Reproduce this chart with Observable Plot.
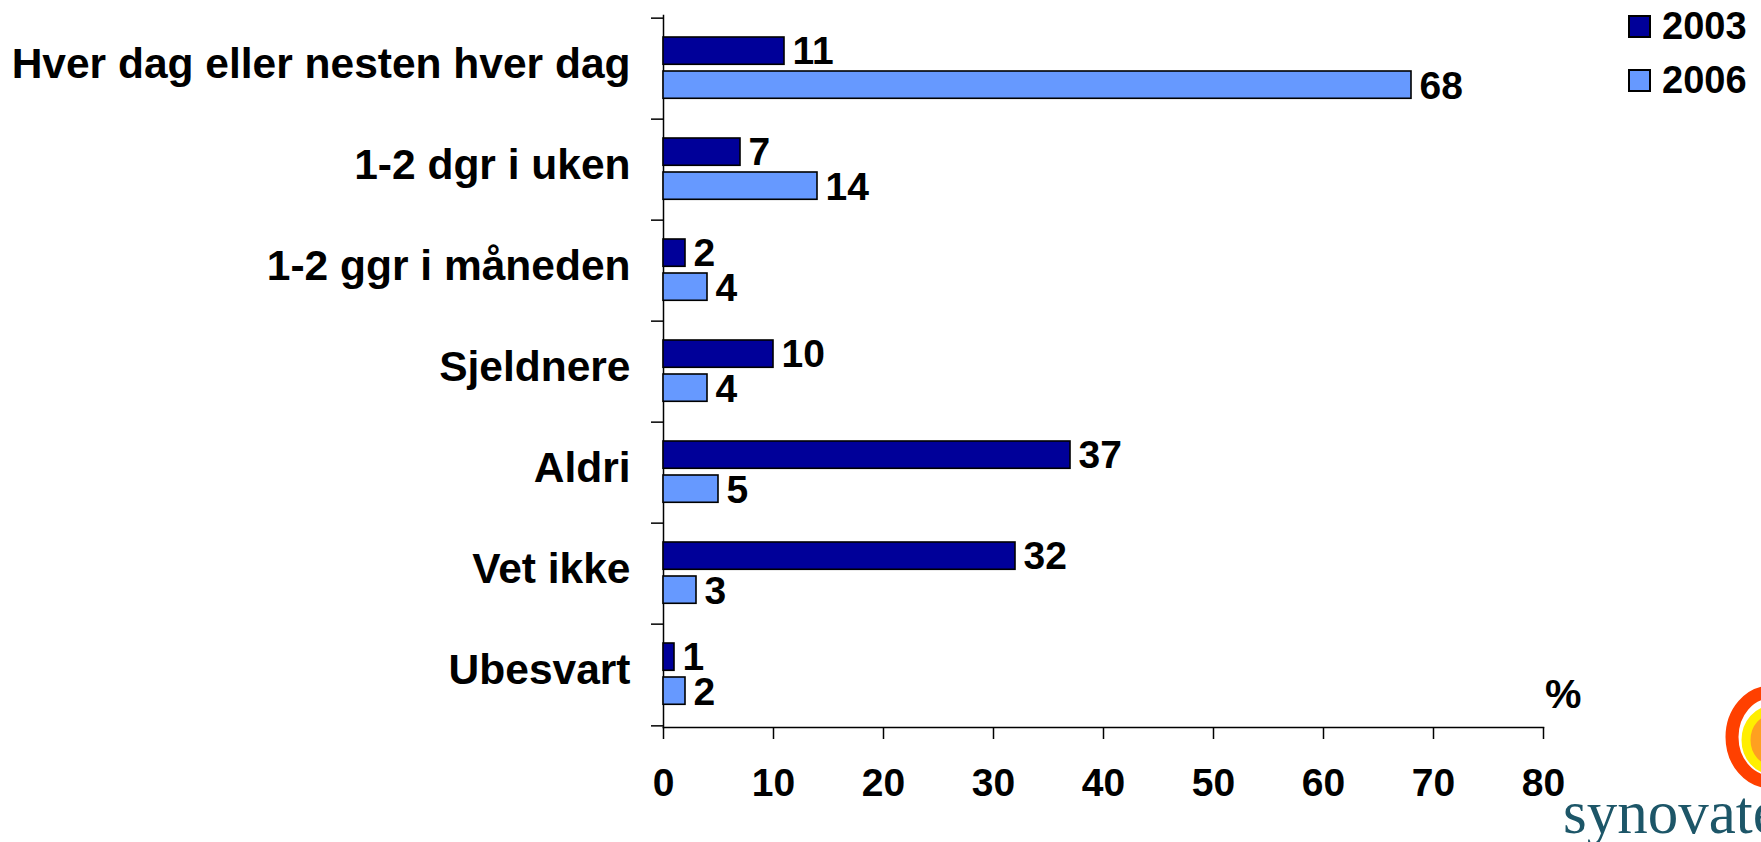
<!DOCTYPE html>
<html>
<head>
<meta charset="utf-8">
<script src="https://cdn.jsdelivr.net/npm/d3@7"></script>
<script src="https://cdn.jsdelivr.net/npm/@observablehq/plot@0.6"></script>
<style>
  html, body { margin: 0; padding: 0; background: #fff; }
  #wrap { position: relative; width: 1761px; height: 842px; overflow: hidden; font-family: "Liberation Sans", Arial, sans-serif; }
  #legend { position: absolute; left: 1628px; top: 12px; }
  .item { position: absolute; left: 0; display: flex; align-items: center; white-space: nowrap; }
  .swatch { width: 19px; height: 19px; border: 2px solid #000; }
  .item span { margin-left: 11px; font-size: 38px; font-weight: bold; color: #000; line-height: 1; }
  #logo { position: absolute; left: 1540px; top: 660px; }
</style>
</head>
<body>
<div id="wrap">
  <div id="chart"></div>
  <div id="legend"></div>
  <svg id="logo" width="221" height="182" viewBox="0 0 221 182">
    <ellipse cx="231" cy="77" rx="39" ry="45" fill="none" stroke="#ff4000" stroke-width="13"/>
    <ellipse cx="233" cy="80" rx="27" ry="30" fill="#ffa020" stroke="#ffee00" stroke-width="9"/>
    <text x="23" y="173" font-family="'Liberation Serif', 'DejaVu Serif', serif" font-size="61" fill="#1d5668">synovate</text>
  </svg>
</div>
<script>
// Survey answers: how often, share of respondents (%)
const categories = [
  "Hver dag eller nesten hver dag",
  "1-2 dgr i uken",
  "1-2 ggr i måneden",
  "Sjeldnere",
  "Aldri",
  "Vet ikke",
  "Ubesvart"
];
const years = ["2003", "2006"];
const values2003 = [11, 7, 2, 10, 37, 32, 1];
const values2006 = [68, 14, 4, 4, 5, 3, 2];
const xTicks = [0, 10, 20, 30, 40, 50, 60, 70, 80];
const colors = ["#000099", "#6699ff"];

const rows2003 = categories.map((c, i) => ({category: c, year: years[0], value: values2003[i]}));
const rows2006 = categories.map((c, i) => ({category: c, year: years[1], value: values2006[i]}));

const width = 1761, height = 842;
const marginTop = 15, marginBottom = 115, marginLeft = 663, marginRight = 218;
const step = (height - marginTop - marginBottom) / categories.length;
const font = "'Liberation Sans', Arial, sans-serif";

const chart = Plot.plot({
  width, height, marginTop, marginBottom, marginLeft, marginRight,
  style: {fontFamily: font, color: "#000", background: "#fff"},
  x: {domain: [0, 80]},
  y: {domain: categories, padding: 0},
  marks: [
    // category labels
    Plot.axisY({tickSize: 0, tickPadding: 33, fontSize: 42.5, fontWeight: "bold", label: null, dy: -5}),
    // boundary ticks between categories
    Plot.axisY({tickSize: 12, tickFormat: () => "", label: null, dy: -step / 2, strokeWidth: 1.5}),
    Plot.axisY({ticks: [categories[categories.length - 1]], tickSize: 12, tickFormat: () => "", label: null, dy: step / 2, strokeWidth: 1.5}),
    Plot.axisX({ticks: xTicks, tickSize: 12, tickPadding: 29, fontSize: 39, fontWeight: "bold", label: null, strokeWidth: 1.5}),
    Plot.frame({anchor: "left", strokeWidth: 1.5}),
    Plot.frame({anchor: "bottom", strokeWidth: 1.5}),
    Plot.barX(rows2003, {x: "value", y: "category", fill: colors[0], stroke: "#000", strokeWidth: 1.6, insetTop: 19, insetBottom: step - 47}),
    Plot.barX(rows2006, {x: "value", y: "category", fill: colors[1], stroke: "#000", strokeWidth: 1.6, insetTop: 53, insetBottom: step - 81}),
    Plot.text(rows2003, {x: "value", y: "category", text: d => String(d.value), textAnchor: "start", dx: 8, dy: 33 - step / 2, fontSize: 39, fontWeight: "bold", fill: "#000"}),
    Plot.text(rows2006, {x: "value", y: "category", text: d => String(d.value), textAnchor: "start", dx: 8, dy: 68 - step / 2, fontSize: 39, fontWeight: "bold", fill: "#000"}),
    Plot.text(["%"], {frameAnchor: "bottom-right", text: d => d, dx: 38, dy: -20, fontSize: 41, fontWeight: "bold", fill: "#000"})
  ]
});
document.getElementById("chart").appendChild(chart);

// legend
const legend = document.getElementById("legend");
years.forEach((y, i) => {
  const item = document.createElement("div");
  item.className = "item";
  item.style.top = (i * 54 - 5) + "px";
  const sw = document.createElement("div");
  sw.className = "swatch";
  sw.style.background = colors[i];
  const label = document.createElement("span");
  label.textContent = y;
  item.appendChild(sw);
  item.appendChild(label);
  legend.appendChild(item);
});
</script>
</body>
</html>
